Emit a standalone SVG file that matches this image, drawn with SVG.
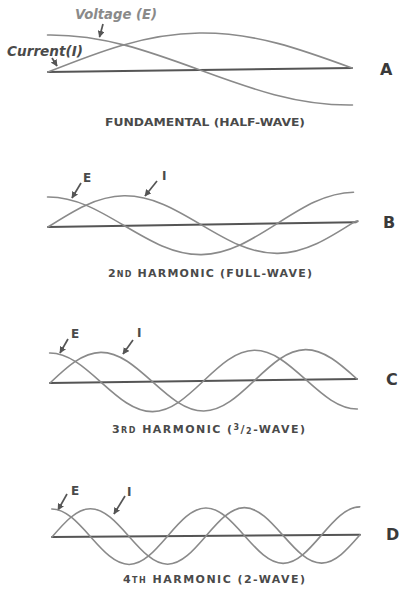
<svg xmlns="http://www.w3.org/2000/svg" width="400" height="592" viewBox="0 0 400 592">
<style>
.axis{fill:none;stroke:#555;stroke-width:2;stroke-linecap:round}
.wave{fill:none;stroke:#8a8a8a;stroke-width:1.6;stroke-linecap:round}
.ptr{fill:none;stroke:#555;stroke-width:1.7}
.cap{font-family:"DejaVu Sans",sans-serif;font-weight:bold;fill:#4a4a4a}
.lbl{font-family:"DejaVu Sans",sans-serif;font-weight:bold;fill:#4a4a4a;font-size:11px}
.hand{font-family:"DejaVu Sans",sans-serif;font-style:italic;font-weight:bold;font-size:14px}
.big{font-family:"DejaVu Sans",sans-serif;font-weight:bold;fill:#3a3a3a;font-size:16px}
</style>
<defs>
<marker id="ah" viewBox="0 0 10 10" refX="9" refY="5" markerWidth="4" markerHeight="4" orient="auto">
<path d="M0,0 L10,5 L0,10 z" fill="#555"/>
</marker>
</defs>
<g id="connectors">
<line class="ptr" x1="103" y1="24" x2="99.5" y2="37" marker-end="url(#ah)"/>
<line class="ptr" x1="52" y1="58" x2="57" y2="66" marker-end="url(#ah)"/>
<line class="ptr" x1="81" y1="183" x2="72" y2="198" marker-end="url(#ah)"/>
<line class="ptr" x1="157" y1="181" x2="145" y2="196" marker-end="url(#ah)"/>
<line class="ptr" x1="68" y1="339" x2="60" y2="353" marker-end="url(#ah)"/>
<line class="ptr" x1="133" y1="340" x2="123" y2="354" marker-end="url(#ah)"/>
<line class="ptr" x1="67" y1="494" x2="58" y2="510" marker-end="url(#ah)"/>
<line class="ptr" x1="125" y1="496" x2="114" y2="514" marker-end="url(#ah)"/>
</g>
<g id="panelA">
<g transform="translate(48,72) rotate(-0.75)">
<path class="axis" d="M0,0 H304"/>
<path class="wave" d="M0,0 C49.57,-18.96 96.99,-37 152,-37 C207.01,-37 254.43,-18.96 304,0"/>
<path class="wave" d="M0,-37 C55.01,-37 102.43,-18.96 152,0 C201.57,18.96 248.99,37 304,37"/>
</g>
<text class="hand" x="75" y="19" fill="#8a8a8a" textLength="82" lengthAdjust="spacingAndGlyphs">Voltage (E)</text>
<text class="hand" x="7" y="56" fill="#4a4a4a" textLength="76" lengthAdjust="spacingAndGlyphs">Current(I)</text>
<text class="lbl" x="105" y="126" textLength="200" lengthAdjust="spacingAndGlyphs">FUNDAMENTAL (HALF-WAVE)</text>
<text class="big" x="380" y="75">A</text>
</g>
<g id="panelB">
<g transform="translate(48,227) rotate(-0.9)">
<path class="axis" d="M0,0 H308"/>
<path class="wave" d="M0,0 C24.95,-15.37 48.81,-30 76.5,-30 C104.19,-30 128.05,-15.37 153,0 C177.95,15.37 201.81,30 229.5,30 C257.19,30 281.05,15.37 306,0 C311,-3 311,0 308,0"/>
<path class="wave" d="M0,-30 C27.69,-30 51.55,-15.37 76.5,0 C101.45,15.37 125.31,30 153,30 C180.69,30 204.55,15.37 229.5,0 C254.45,-15.37 278.31,-30 306,-30"/>
</g>
<text class="cap" x="83" y="182" font-size="12">E</text>
<text class="cap" x="162" y="180" font-size="12">I</text>
<text class="lbl" x="108" y="277" textLength="204" lengthAdjust="spacing">2<tspan font-size="8">ND</tspan> HARMONIC (FULL-WAVE)</text>
<text class="big" x="383" y="228">B</text>
</g>
<g id="panelC">
<g transform="translate(50,383) rotate(-0.75)">
<path class="axis" d="M0,0 H307"/>
<path class="wave" d="M0,0 C16.69,-15.37 32.65,-30 51.17,-30 C69.69,-30 85.65,-15.37 102.33,0 C119.02,15.37 134.98,30 153.5,30 C172.02,30 187.98,15.37 204.67,0 C221.36,-15.37 237.32,-30 255.83,-30 C274.35,-30 290.31,-15.37 307,0"/>
<path class="wave" d="M0,-30 C18.52,-30 34.48,-15.37 51.17,0 C67.86,15.37 83.82,30 102.33,30 C120.85,30 136.81,15.37 153.5,0 C170.19,-15.37 186.15,-30 204.67,-30 C223.19,-30 239.15,-15.37 255.83,0 C272.52,15.37 288.48,30 307,30"/>
</g>
<text class="cap" x="71" y="338" font-size="12">E</text>
<text class="cap" x="137" y="337" font-size="12">I</text>
<text class="lbl" x="112" y="433" textLength="193" lengthAdjust="spacing">3<tspan font-size="8">RD</tspan> HARMONIC (<tspan font-size="8" dy="-3">3</tspan><tspan dy="3">/</tspan><tspan font-size="8" dy="1">2</tspan><tspan dy="-1">-WAVE)</tspan></text>
<text class="big" x="386" y="385">C</text>
</g>
<g id="panelD">
<g transform="translate(52,537) rotate(-0.4)">
<path class="axis" d="M0,0 H308"/>
<path class="wave" d="M0,0 C12.55,-14.34 24.57,-28 38.5,-28 C52.43,-28 64.45,-14.34 77,0 C89.55,14.34 101.57,28 115.5,28 C129.43,28 141.45,14.34 154,0 C166.55,-14.34 178.57,-28 192.5,-28 C206.43,-28 218.45,-14.34 231,0 C243.55,14.34 255.57,28 269.5,28 C283.43,28 295.45,14.34 308,0"/>
<path class="wave" d="M0,-28 C13.93,-28 25.95,-14.34 38.5,0 C51.05,14.34 63.07,28 77,28 C90.93,28 102.95,14.34 115.5,0 C128.05,-14.34 140.07,-28 154,-28 C167.93,-28 179.95,-14.34 192.5,0 C205.05,14.34 217.07,28 231,28 C244.93,28 256.95,14.34 269.5,0 C282.05,-14.34 294.07,-28 308,-28"/>
</g>
<text class="cap" x="71" y="495" font-size="12">E</text>
<text class="cap" x="127" y="496" font-size="12">I</text>
<text class="lbl" x="123" y="583" textLength="182" lengthAdjust="spacing">4<tspan font-size="8">TH</tspan> HARMONIC (2-WAVE)</text>
<text class="big" x="386" y="540">D</text>
</g>
</svg>
